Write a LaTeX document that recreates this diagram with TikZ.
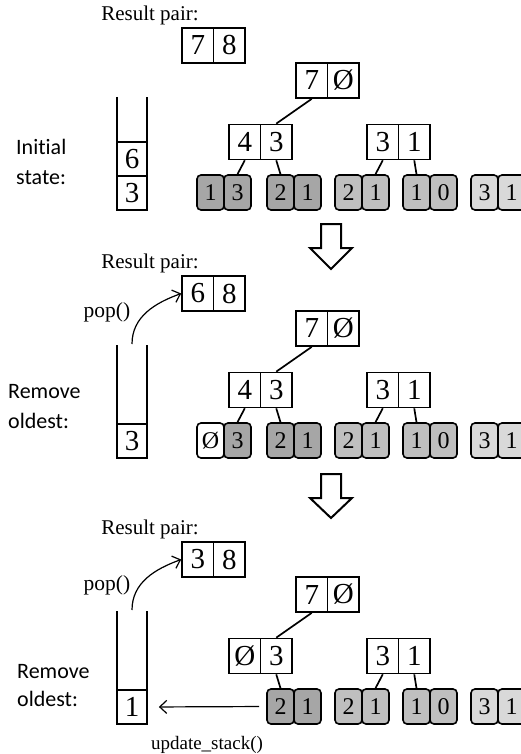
\documentclass[tikz,border=0pt]{standalone}
\usepackage{fontspec}
\setmainfont{Liberation Serif}
\newfontfamily\labfont[Ligatures=NoCommon]{Carlito}
\usetikzlibrary{arrows.meta}
\definecolor{leafdark}{HTML}{A6A6A6}
\definecolor{leafmid}{HTML}{BFBFBF}
\definecolor{leaflight}{HTML}{D9D9D9}
\begin{document}
\begin{tikzpicture}[x=1pt,y=-1pt,
  cell/.style={draw, line width=1.7pt, minimum width=31.5pt, minimum height=35pt, inner sep=0pt, font=\fontsize{29}{32}\selectfont, fill=white},
  leafcell/.style={draw, line width=1.6pt, rounded corners=4pt, minimum width=27pt, minimum height=35pt, inner sep=0pt, font=\fontsize{24}{28}\selectfont},
  dk/.style={leafcell, fill=leafdark},
  md/.style={leafcell, fill=leafmid},
  lt/.style={leafcell, fill=leaflight},
  wh/.style={leafcell, fill=white},
  stk/.style={draw, line width=1.7pt, minimum width=30pt, minimum height=34pt, inner sep=0pt, font=\fontsize{29}{32}\selectfont},
  edge/.style={line width=1.7pt},
  bigarrow/.style={draw, line width=2pt, fill=white},
  thinarrow/.style={line width=1.2pt, -{Straight Barb[length=7pt,width=13pt]}},
  heading/.style={font=\fontsize{21}{24}\selectfont, anchor=base, inner sep=0pt},
  opname/.style={font=\fontsize{21.5}{24}\selectfont, inner sep=0pt},
  lab/.style={font=\labfont\fontsize{22}{29}\selectfont, anchor=base west, inner sep=0pt},
]
\clip (0,0) rectangle (521,754);

% ---------------- Section 1 ----------------
\begin{scope}
\node[heading] (h1) at (150,20.7) {Result pair:};
\node[cell] (r1a) at (197.75,45.5) {7};
\node[cell] (r1b) at (229.25,45.5) {8};
\node[cell] (t1a) at (311.75,80.5) {7};
\node[cell] (t1b) at (343.25,80.5) {Ø};
\node[cell] (i1a) at (244.75,142) {4};
\node[cell] (i1b) at (276.25,142) {3};
\node[cell] (j1a) at (382.75,142) {3};
\node[cell] (j1b) at (414.25,142) {1};
\node[dk] (l1a) at (210.5,192.5) {1};
\node[dk] (l1b) at (237.5,192.5) {3};
\node[dk] (m1a) at (280.5,192.5) {2};
\node[dk] (m1b) at (307.5,192.5) {1};
\node[md] (n1a) at (348.5,192.5) {2};
\node[md] (n1b) at (375.5,192.5) {1};
\node[md] (o1a) at (416.5,192.5) {1};
\node[md] (o1b) at (443.5,192.5) {0};
\node[lt] (p1a) at (484.5,192.5) {3};
\node[lt] (p1b) at (511.5,192.5) {1};
\draw[edge] (t1a.south) -- (i1b.north);
\draw[edge] (i1a.south) -- (l1b.north);
\draw[edge] (i1b.south) -- (m1a.north);
\draw[edge] (j1a.south) -- (n1b.north);
\draw[edge] (j1b.south) -- (o1a.north);
\node[stk] (s1a) at (132,159) {6};
\node[stk] (s1b) at (132,193) {3};
\draw[edge] (117,97) -- (117,210) -- (147,210) -- (147,97);
\end{scope}
\node[lab] (lab1) at (16,155) {Initial};
\node[lab] (lab1s) at (16,184) {state:};

\draw[bigarrow] (321,224) -- (341,224) -- (341,248) -- (352,248) -- (331,269) -- (310,248) -- (321,248) -- cycle;

% ---------------- Section 2 ----------------
\begin{scope}[shift={(0,248)}]
\node[heading] (h2) at (150,20.7) {Result pair:};
\node[cell] (r2a) at (197.75,45.5) {6};
\node[cell] (r2b) at (229.25,45.5) {8};
\node[cell] (t2a) at (311.75,80.5) {7};
\node[cell] (t2b) at (343.25,80.5) {Ø};
\node[cell] (i2a) at (244.75,142) {4};
\node[cell] (i2b) at (276.25,142) {3};
\node[cell] (j2a) at (382.75,142) {3};
\node[cell] (j2b) at (414.25,142) {1};
\node[wh] (l2a) at (210.5,192.5) {Ø};
\node[dk] (l2b) at (237.5,192.5) {3};
\node[dk] (m2a) at (280.5,192.5) {2};
\node[dk] (m2b) at (307.5,192.5) {1};
\node[md] (n2a) at (348.5,192.5) {2};
\node[md] (n2b) at (375.5,192.5) {1};
\node[md] (o2a) at (416.5,192.5) {1};
\node[md] (o2b) at (443.5,192.5) {0};
\node[lt] (p2a) at (484.5,192.5) {3};
\node[lt] (p2b) at (511.5,192.5) {1};
\draw[edge] (t2a.south) -- (i2b.north);
\draw[edge] (i2a.south) -- (l2b.north);
\draw[edge] (i2b.south) -- (m2a.north);
\draw[edge] (j2a.south) -- (n2b.north);
\draw[edge] (j2b.south) -- (o2a.north);
\node[stk] (s2b) at (132,193) {3};
\draw[edge] (117,97) -- (117,210) -- (147,210) -- (147,97);
\coordinate (top2) at (132,96);
\node[opname] (pop2) at (107,64.5) {pop()};
\draw[thinarrow] (top2) to[out=90,in=200] (r2a.west);
\end{scope}
\node[lab] (lab2) at (8,398) {Remove};
\node[lab] (lab2s) at (8,428) {oldest:};

\draw[bigarrow] (321,474) -- (341,474) -- (341,498) -- (352,498) -- (331,518) -- (310,498) -- (321,498) -- cycle;

% ---------------- Section 3 ----------------
\begin{scope}[shift={(0,514)}]
\node[heading] (h3) at (150,20.7) {Result pair:};
\node[cell] (r3a) at (197.75,45.5) {3};
\node[cell] (r3b) at (229.25,45.5) {8};
\node[cell] (t3a) at (311.75,80.5) {7};
\node[cell] (t3b) at (343.25,80.5) {Ø};
\node[cell] (i3a) at (244.75,142) {Ø};
\node[cell] (i3b) at (276.25,142) {3};
\node[cell] (j3a) at (382.75,142) {3};
\node[cell] (j3b) at (414.25,142) {1};
\node[dk] (m3a) at (280.5,192.5) {2};
\node[dk] (m3b) at (307.5,192.5) {1};
\node[md] (n3a) at (348.5,192.5) {2};
\node[md] (n3b) at (375.5,192.5) {1};
\node[md] (o3a) at (416.5,192.5) {1};
\node[md] (o3b) at (443.5,192.5) {0};
\node[lt] (p3a) at (484.5,192.5) {3};
\node[lt] (p3b) at (511.5,192.5) {1};
\draw[edge] (t3a.south) -- (i3b.north);
\draw[edge] (i3b.south) -- (m3a.north);
\draw[edge] (j3a.south) -- (n3b.north);
\draw[edge] (j3b.south) -- (o3a.north);
\node[stk] (s3b) at (132,193) {1};
\draw[edge] (117,97) -- (117,210) -- (147,210) -- (147,97);
\coordinate (top3) at (132,96);
\node[opname] (pop3) at (107,71) {pop()};
\draw[thinarrow] (top3) to[out=90,in=200] (r3a.west);
\draw[thinarrow, shorten <=7pt, shorten >=11pt] (m3a.west) -- (s3b.east);
\node[font=\fontsize{19}{22}\selectfont, anchor=base, inner sep=0pt] (upd) at (207,235) {update\_stack()};
\end{scope}
\node[lab] (lab3) at (17,678) {Remove};
\node[lab] (lab3s) at (17,706) {oldest:};
\end{tikzpicture}
\end{document}
